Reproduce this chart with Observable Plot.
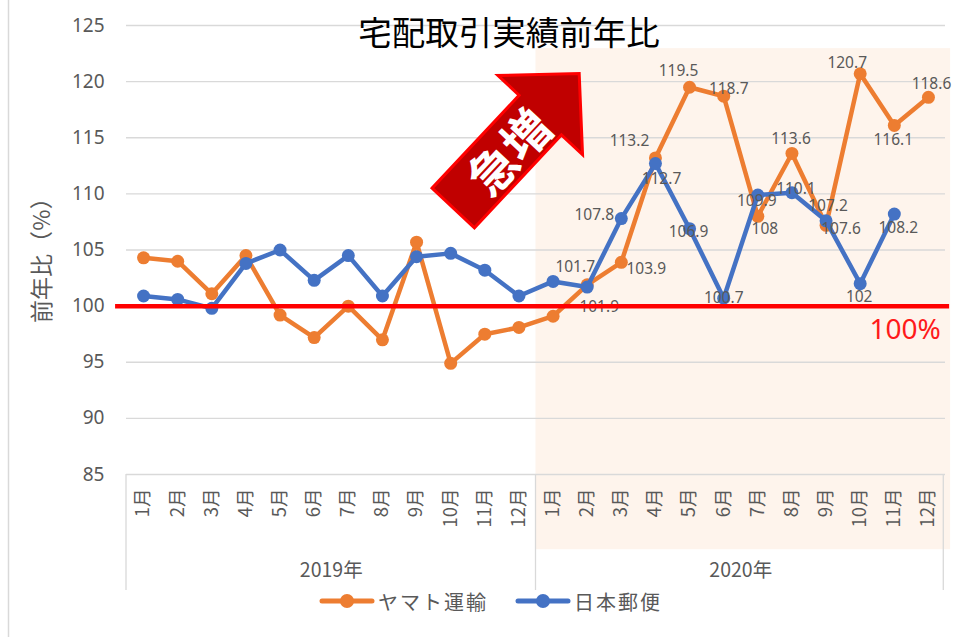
<!DOCTYPE html>
<html>
<head>
<meta charset="utf-8">
<script src="https://cdn.jsdelivr.net/npm/d3@7"></script>
<script src="https://cdn.jsdelivr.net/npm/@observablehq/plot@0.6"></script>
<style>
  body { margin: 0; background: #fff; }
  #chart svg { display: block; }
</style>
</head>
<body>
<div id="chart"></div>
<script>
// ---------- data ----------
const months = ["1月","2月","3月","4月","5月","6月","7月","8月","9月","10月","11月","12月"];
const years = ["2019年", "2020年"];
const seriesNames = ["ヤマト運輸", "日本郵便"];
const yamato = [104.3, 104.0, 101.1, 104.5, 99.2, 97.2, 100.0, 97.0, 105.7, 94.9, 97.5, 98.1,
                99.1, 101.9, 103.9, 113.2, 119.5, 118.7, 108, 113.6, 107.2, 120.7, 116.1, 118.6];
const japanPost = [100.9, 100.6, 99.8, 103.8, 105.0, 102.3, 104.5, 100.9, 104.4, 104.7, 103.2, 100.9,
                   102.2, 101.7, 107.8, 112.7, 106.9, 100.7, 109.9, 110.1, 107.6, 102, 108.2, null];
const yTicks = [85, 90, 95, 100, 105, 110, 115, 120, 125];
const baseline = 100;
const titleText = "宅配取引実績前年比";
const yLabelMain = "前年比";
const yLabelUnit = ["（", "%", "）"];
const baselineText = "100%";
const arrowText = "急増";

// ---------- layout (not data) ----------
const colors = ["#ED7D31", "#4472C4"];
const textGray = "#595959";
const gridGray = "#d9d9d9";
const cjk = "'Noto Sans CJK JP', sans-serif";
// label offsets (px) for 2020 data labels, by month index
const yamatoLabelOffsets = {13:[12,22],14:[25,7],15:[-26,-17],16:[-11,-16],17:[5,-7],18:[7,13],19:[-1,-14],20:[2,-19],21:[-13,-11],22:[-1,15],23:[3,-13]};
const postLabelOffsets = {13:[-12,-20],14:[-27,-4],15:[6,15],16:[-1,3],17:[0,0],18:[-1,6],19:[4,-4],20:[15,8],21:[-1,13],22:[4,14]};
const arrowTip = {i: 12.78, v: 120.68};
const arrowTail = {i: 9.09, v: 108.7};

const yamatoRows = yamato.map((v, i) => ({i, v, s: seriesNames[0]}));
const postRows = japanPost.map((v, i) => ({i, v, s: seriesNames[1]})).filter(d => d.v != null);

function labelMarks(rows, offsets) {
  return Object.entries(offsets).map(([k, [dx, dy]]) => {
    const row = rows.find(r => r.i === +k);
    return Plot.text([row], {
      x: "i", y: "v", text: d => String(d.v), dx, dy,
      fill: textGray, fontSize: 15.5, lineAnchor: "middle"
    });
  });
}

function arrowMark(index, scales, values, dimensions) {
  const {x, y} = scales;
  const tip = [x(arrowTip.i), y(arrowTip.v)];
  const tail = [x(arrowTail.i), y(arrowTail.v)];
  const ddx = tip[0] - tail[0], ddy = tip[1] - tail[1];
  const L = Math.hypot(ddx, ddy);
  const ux = ddx / L, uy = ddy / L, px = -uy, py = ux;
  const shaftHalf = 29, headHalf = 58, headLen = 57;
  const pt = (a, b) => [tail[0] + ux * a + px * b, tail[1] + uy * a + py * b];
  const pts = [pt(0, -shaftHalf), pt(L - headLen, -shaftHalf), pt(L - headLen, -headHalf), pt(L, 0),
               pt(L - headLen, headHalf), pt(L - headLen, shaftHalf), pt(0, shaftHalf)];
  const g = d3.create("svg:g");
  g.append("polygon")
    .attr("points", pts.map(p => p.join(",")).join(" "))
    .attr("fill", "#C00000").attr("stroke", "#FF0000").attr("stroke-width", 3)
    .attr("stroke-linejoin", "miter");
  const c = pt(L * 0.43, 0);
  const ang = Math.atan2(uy, ux) * 180 / Math.PI;
  g.append("text")
    .attr("transform", `translate(${c[0]},${c[1]}) rotate(${ang})`)
    .attr("text-anchor", "middle").attr("dominant-baseline", "central")
    .attr("fill", "#fff").attr("font-weight", "bold").attr("font-size", 48)
    .attr("font-family", cjk)
    .text(arrowText);
  return g.node();
}

function frameDecor(index, scales, values, dimensions) {
  const {height, marginBottom, marginLeft} = dimensions;
  const {x} = scales;
  const g = d3.create("svg:g");
  g.append("line").attr("x1", 8.5).attr("x2", 8.5).attr("y1", 0).attr("y2", height)
    .attr("stroke", gridGray).attr("stroke-width", 1.5);
  const yb = height - marginBottom;
  [-0.5, 11.5, 23.45].forEach(v => {
    g.append("line").attr("x1", x(v)).attr("x2", x(v)).attr("y1", yb).attr("y2", yb + 116)
      .attr("stroke", gridGray).attr("stroke-width", 1.3);
  });
  // y-axis title, reading upward; each glyph placed on its own em step
  const lx = marginLeft - 86;
  const fs = 23;
  const steps = [
    ...yLabelMain.split("").map(ch => ({ch, w: fs})),
    {ch: yLabelUnit[0], w: fs}, {ch: yLabelUnit[1], w: fs * 0.95}, {ch: yLabelUnit[2], w: fs}
  ];
  let pos = yb - 151;
  const gl = g.append("g").attr("fill", textGray).attr("font-size", fs).attr("font-family", cjk);
  steps.forEach(s => {
    gl.append("text")
      .attr("transform", `translate(${lx},${pos - s.w / 2}) rotate(-90)`)
      .attr("text-anchor", "middle").attr("dominant-baseline", "central")
      .text(s.ch);
    pos -= s.w;
  });
  return g.node();
}

function legendMark(index, scales, values, dimensions) {
  const {height} = dimensions;
  const g = d3.create("svg:g");
  const ly = height - 36;
  const items = [{cx: 347, tx: 378}, {cx: 543, tx: 574}];
  items.forEach((it, k) => {
    g.append("line").attr("x1", it.cx - 25).attr("x2", it.cx + 25).attr("y1", ly).attr("y2", ly)
      .attr("stroke", colors[k]).attr("stroke-width", 5).attr("stroke-linecap", "round");
    g.append("circle").attr("cx", it.cx).attr("cy", ly).attr("r", 7).attr("fill", colors[k]);
    g.append("text").attr("x", it.tx).attr("y", ly).attr("dominant-baseline", "central")
      .attr("text-anchor", "start")
      .attr("fill", textGray).attr("font-size", 20).attr("letter-spacing", 2)
      .attr("font-family", cjk)
      .text(seriesNames[k]);
  });
  return g.node();
}

const chart = Plot.plot({
  width: 967,
  height: 637,
  marginLeft: 126,
  marginRight: 22,
  marginTop: 25,
  marginBottom: 163,
  style: {fontFamily: "'Noto Sans', 'Noto Sans CJK JP', sans-serif", background: "#fff", overflow: "visible"},
  x: {type: "linear", domain: [-0.5, 23.5]},
  y: {domain: [85, 125]},
  marks: [
    Plot.rect([0], {x1: 11.5, x2: 23.65, y1: 122.94, y2: 78.3, fill: "#fef4ec"}),
    frameDecor,
    Plot.gridY(yTicks, {stroke: gridGray, strokeOpacity: 1, strokeWidth: 1.3}),
    Plot.axisY(yTicks, {tickSize: 0, tickPadding: 22, fontSize: 19, fill: textGray, label: null}),
    Plot.axisX(d3.range(24), {tickSize: 0, tickPadding: 14, tickRotate: -90, fontSize: 18.5,
      fill: textGray, label: null, tickFormat: i => months[i % 12], fontFamily: cjk}),
    Plot.text(years.map((t, k) => ({x: 5.5 + 12 * k, t})), {x: "x", text: "t", frameAnchor: "bottom",
      dy: 102, fontSize: 19.5, fill: textGray, fontFamily: cjk}),
    Plot.text([titleText], {frameAnchor: "top", dx: -27, dy: 9, fontSize: 33.5, fill: "#000",
      lineAnchor: "middle", fontFamily: cjk}),
    arrowMark,
    Plot.line(yamatoRows, {x: "i", y: "v", stroke: colors[0], strokeWidth: 4.5, strokeLinejoin: "round"}),
    Plot.dot(yamatoRows, {x: "i", y: "v", fill: colors[0], r: 6.5}),
    Plot.line(postRows, {x: "i", y: "v", stroke: colors[1], strokeWidth: 4.5, strokeLinejoin: "round"}),
    Plot.dot(postRows, {x: "i", y: "v", fill: colors[1], r: 6.5}),
    ...labelMarks(yamatoRows, yamatoLabelOffsets),
    ...labelMarks(postRows, postLabelOffsets),
    Plot.ruleY([baseline], {x1: -0.82, x2: 23.62, stroke: "#ff0000", strokeWidth: 4.5}),
    Plot.text([{x: 23.36, y: baseline}], {x: "x", y: "y", text: () => baselineText, textAnchor: "end",
      dy: 24, fontSize: 28, fill: "#ff1a1a"}),
    legendMark
  ]
});
document.getElementById("chart").appendChild(chart);
</script>
</body>
</html>
